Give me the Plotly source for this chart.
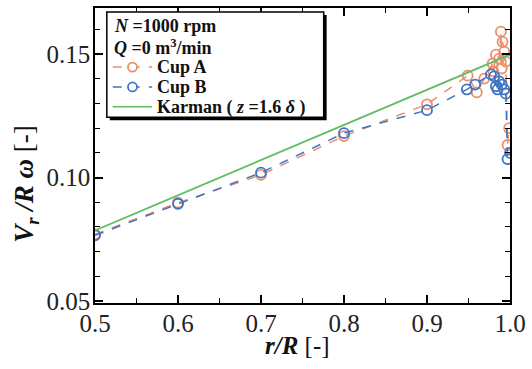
import plotly.graph_objects as go

# radial position r/R and dimensionless radial velocity
r_cup_a = [0.5, 0.6, 0.7, 0.8, 0.9, 0.949, 0.96, 0.969, 0.979, 0.98, 0.983, 0.987,
           0.989, 0.99, 0.991, 0.993, 0.995, 0.997, 0.999]
v_cup_a = [0.0770, 0.0898, 0.1011, 0.1168, 0.1297, 0.1413, 0.1345, 0.1401, 0.1462,
           0.1430, 0.1498, 0.1482, 0.1591, 0.1442, 0.1550, 0.1510, 0.1470, 0.1132, 0.1200]

r_cup_b = [0.5, 0.6, 0.7, 0.8, 0.9, 0.948, 0.958, 0.977, 0.981, 0.983, 0.985, 0.987,
           0.99, 0.993, 0.995, 0.997, 1.0]
v_cup_b = [0.0766, 0.0894, 0.1020, 0.1180, 0.1273, 0.1357, 0.1377, 0.1418, 0.1410,
           0.1370, 0.1357, 0.1390, 0.1377, 0.1357, 0.1340, 0.1075, 0.1100]

# von Karman similarity solution at z = 1.6 delta (linear in r/R)
r_karman = [0.5, 1.0]
v_karman = [0.0786, 0.1498]

x_ticks = [0.5, 0.6, 0.7, 0.8, 0.9, 1.0]
y_ticks = [0.05, 0.10, 0.15]

legend_header = ["<b><i>N</i> =1000 rpm</b>", "<b><i>Q</i> =0 m<sup>3</sup>/min</b>"]
legend_names = ["<b>Cup A</b>", "<b>Cup B</b>", "<b>Karman ( <i>z</i> =1.6 <i>δ</i> )</b>"]

ORANGE = "#EC8E6C"
BLUE = "#3F73C6"
GREEN = "#62BD66"
FONT = "Liberation Serif"

W, H = 532, 369
ML, MR, MT, MB = 95, 16, 6, 66
PW, PH = W - ML - MR, H - MT - MB


def px(x):
    """pixel column -> plot-area paper fraction"""
    return (x - ML) / PW


def py(y):
    """pixel row -> plot-area paper fraction"""
    return (H - MB - y) / PH


series_styles = [
    dict(color=ORANGE, dash="dash", marker=True),
    dict(color=BLUE, dash="dash", marker=True),
    dict(color=GREEN, dash="solid", marker=False),
]

fig = go.Figure()
fig.add_trace(go.Scatter(
    x=r_cup_a, y=v_cup_a, mode="lines+markers", name="Cup A",
    line=dict(color=ORANGE, width=1.5, dash="dash"),
    marker=dict(symbol="circle-open", size=10, color=ORANGE, line=dict(width=1.8)),
))
fig.add_trace(go.Scatter(
    x=r_cup_b, y=v_cup_b, mode="lines+markers", name="Cup B",
    line=dict(color=BLUE, width=1.5, dash="dash"),
    marker=dict(symbol="circle-open", size=10, color=BLUE, line=dict(width=1.8)),
))
fig.add_trace(go.Scatter(
    x=r_karman, y=v_karman, mode="lines", name="Karman",
    line=dict(color=GREEN, width=1.8),
))

axis_common = dict(
    showline=True, linecolor="black", linewidth=1.5, mirror="ticks",
    ticks="inside", ticklen=8, tickwidth=1.5, tickcolor="black",
    showgrid=False, zeroline=False,
    tickfont=dict(family=FONT, size=25, color="#222"),
)

fig.update_xaxes(
    range=[0.5, 1.0], tickvals=x_ticks, ticktext=[f"{v:.1f}" for v in x_ticks],
    minor=dict(dtick=0.05, ticks="inside", ticklen=5, tickwidth=1.2, tickcolor="black"),
    ticklabelstandoff=-3,
    **axis_common,
)
fig.update_yaxes(
    range=[0.0492, 0.1687], tickvals=y_ticks, ticktext=[f"{v:.2f}" for v in y_ticks],
    minor=dict(dtick=0.01, tick0=0.05, ticks="inside", ticklen=5, tickwidth=1.2, tickcolor="black"),
    ticklabelstandoff=-2,
    **axis_common,
)

# axis titles
fig.add_annotation(
    text="<b><i>r/R</i></b> [-]", xref="paper", yref="paper",
    x=px(300), y=py(346), xanchor="center", yanchor="middle", showarrow=False,
    font=dict(family=FONT, size=25, color="#111"),
)
fig.add_annotation(
    text="<b><i>V</i></b><sub><b><i>r</i></b></sub><b><i> /R ω</i></b> [-]",
    xref="paper", yref="paper", textangle=-90,
    x=px(25), y=py(183), xanchor="center", yanchor="middle", showarrow=False,
    font=dict(family=FONT, size=27, color="#111"),
)

# legend box with drop shadow
box_l, box_r, box_t, box_b = 107, 327, 10, 116
fig.add_shape(type="rect", xref="paper", yref="paper",
              x0=px(box_l + 3), x1=px(box_r + 3), y0=py(box_b + 3), y1=py(box_t + 3),
              fillcolor="black", line=dict(width=0))
fig.add_shape(type="rect", xref="paper", yref="paper",
              x0=px(box_l), x1=px(box_r), y0=py(box_b), y1=py(box_t),
              fillcolor="white", line=dict(color="black", width=1.5))

LEG_FONT = dict(family=FONT, size=18, color="#111")

for text, yc in zip(legend_header, [24, 45]):
    fig.add_annotation(text=text, xref="paper", yref="paper", x=px(112), y=py(yc),
                       xanchor="left", yanchor="middle", showarrow=False,
                       height=20, font=LEG_FONT)

for text, style, yc in zip(legend_names, series_styles, [65.5, 85.5, 105.5]):
    fig.add_shape(type="line", xref="paper", yref="paper",
                  x0=px(113), x1=px(153), y0=py(yc), y1=py(yc),
                  line=dict(color=style["color"], width=1.5, dash=style["dash"]))
    if style["marker"]:
        fig.add_shape(type="circle", xref="paper", yref="paper",
                      xsizemode="pixel", ysizemode="pixel",
                      xanchor=px(133), yanchor=py(yc), x0=-4.5, x1=4.5, y0=-4.5, y1=4.5,
                      fillcolor="white", line=dict(color=style["color"], width=1.8))
    fig.add_annotation(text=text, xref="paper", yref="paper", x=px(156), y=py(yc),
                       xanchor="left", yanchor="middle", showarrow=False,
                       height=20, font=LEG_FONT)

fig.update_layout(
    width=W, height=H,
    margin=dict(l=ML, r=MR, t=MT, b=MB),
    paper_bgcolor="white", plot_bgcolor="white",
    showlegend=False,
)

fig.write_html("out.html")
